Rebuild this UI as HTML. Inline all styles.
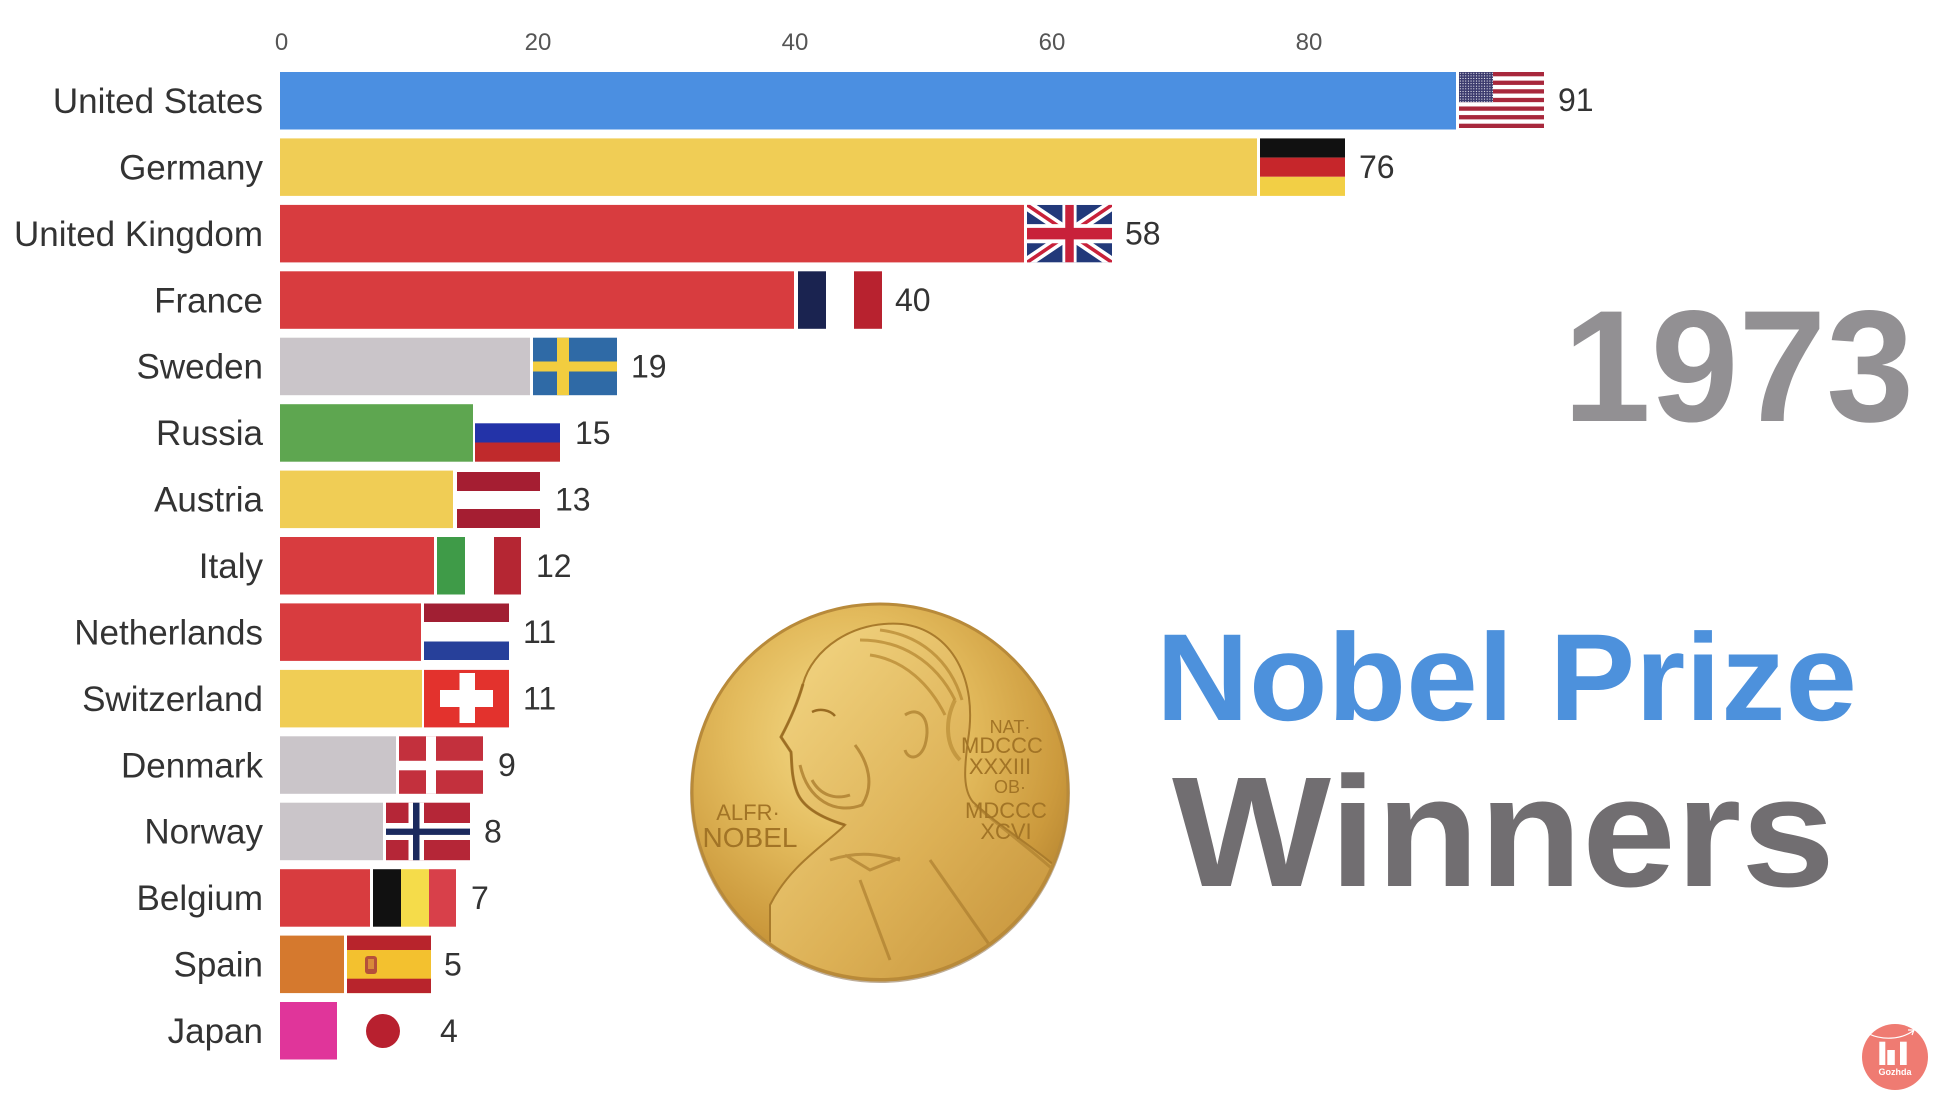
<!DOCTYPE html>
<html>
<head>
<meta charset="utf-8">
<style>
  html,body{margin:0;padding:0;background:#fff;}
  body{width:1940px;height:1094px;overflow:hidden;}
  svg{display:block;}
  .lbl{font-family:"Liberation Sans",sans-serif;font-size:35px;fill:#333;text-anchor:end;}
  .val{font-family:"Liberation Sans",sans-serif;font-size:32px;fill:#333;}
  .tick{font-family:"Liberation Sans",sans-serif;font-size:24px;fill:#555;text-anchor:middle;}
  .med{font-family:"Liberation Sans",sans-serif;fill:#a27426;text-anchor:middle;}
</style>
</head>
<body>
<svg width="1940" height="1094" viewBox="0 0 1940 1094" xmlns="http://www.w3.org/2000/svg">
  <defs>
    <pattern id="stars" width="6" height="6" patternUnits="userSpaceOnUse">
      <rect width="6" height="6" fill="#3c3b6e"/>
      <circle cx="3" cy="3" r="1.3" fill="#fff"/>
    </pattern>
    <radialGradient id="gold" cx="42%" cy="35%" r="70%">
      <stop offset="0%" stop-color="#f6de8c"/>
      <stop offset="45%" stop-color="#e3bb5d"/>
      <stop offset="80%" stop-color="#cc9a3d"/>
      <stop offset="100%" stop-color="#b3822f"/>
    </radialGradient>
    <linearGradient id="bust" x1="0" y1="0" x2="1" y2="1">
      <stop offset="0%" stop-color="#f4d886"/>
      <stop offset="55%" stop-color="#dcb055"/>
      <stop offset="100%" stop-color="#c08c35"/>
    </linearGradient>
    <clipPath id="medclip"><circle cx="880" cy="792" r="186"/></clipPath>
  </defs>

  <!-- axis ticks -->
  <text class="tick" x="281.5" y="50">0</text>
  <text class="tick" x="538" y="50">20</text>
  <text class="tick" x="795" y="50">40</text>
  <text class="tick" x="1052" y="50">60</text>
  <text class="tick" x="1309" y="50">80</text>

  <!-- labels -->
  <text class="lbl" x="263" y="113">United States</text>
  <text class="lbl" x="263" y="179.4">Germany</text>
  <text class="lbl" x="263" y="245.9">United Kingdom</text>
  <text class="lbl" x="263" y="312.3">France</text>
  <text class="lbl" x="263" y="378.7">Sweden</text>
  <text class="lbl" x="263" y="445.2">Russia</text>
  <text class="lbl" x="263" y="511.6">Austria</text>
  <text class="lbl" x="263" y="578">Italy</text>
  <text class="lbl" x="263" y="644.4">Netherlands</text>
  <text class="lbl" x="263" y="710.9">Switzerland</text>
  <text class="lbl" x="263" y="777.3">Denmark</text>
  <text class="lbl" x="263" y="843.7">Norway</text>
  <text class="lbl" x="263" y="910.2">Belgium</text>
  <text class="lbl" x="263" y="976.6">Spain</text>
  <text class="lbl" x="263" y="1043">Japan</text>

  <!-- bars -->
  <rect x="280" y="72" width="1176" height="57.5" fill="#4b8fe1"/>
  <rect x="280" y="138.4" width="977" height="57.5" fill="#f0cd55"/>
  <rect x="280" y="204.9" width="744" height="57.5" fill="#d83c3f"/>
  <rect x="280" y="271.3" width="514" height="57.5" fill="#d83c3f"/>
  <rect x="280" y="337.7" width="250" height="57.5" fill="#cac5c9"/>
  <rect x="280" y="404.2" width="193" height="57.5" fill="#5ea650"/>
  <rect x="280" y="470.6" width="173" height="57.5" fill="#f0cd55"/>
  <rect x="280" y="537" width="154" height="57.5" fill="#d83c3f"/>
  <rect x="280" y="603.4" width="141" height="57.5" fill="#d83c3f"/>
  <rect x="280" y="669.9" width="142" height="57.5" fill="#f0cd55"/>
  <rect x="280" y="736.3" width="116" height="57.5" fill="#cac5c9"/>
  <rect x="280" y="802.7" width="103" height="57.5" fill="#cac5c9"/>
  <rect x="280" y="869.2" width="90" height="57.5" fill="#d83c3f"/>
  <rect x="280" y="935.6" width="64" height="57.5" fill="#d5792e"/>
  <rect x="280" y="1002" width="57" height="57.5" fill="#e0359a"/>

  <!-- flags -->
  <svg x="1459" y="72" width="85" height="56" viewBox="0 0 190 130" preserveAspectRatio="none">
    <rect width="190" height="130" fill="#fff"/>
    <g fill="#a8283c">
      <rect y="0" width="190" height="10"/><rect y="20" width="190" height="10"/>
      <rect y="40" width="190" height="10"/><rect y="60" width="190" height="10"/>
      <rect y="80" width="190" height="10"/><rect y="100" width="190" height="10"/>
      <rect y="120" width="190" height="10"/>
    </g>
    <rect width="76" height="70" fill="url(#stars)"/>
  </svg>
  <rect x="1260" y="138.4" width="85" height="19.2" fill="#111"/>
  <rect x="1260" y="157.6" width="85" height="19.2" fill="#c6262b"/>
  <rect x="1260" y="176.8" width="85" height="19.1" fill="#f2cf45"/>
  <svg x="1027" y="204.9" width="85" height="57.5" viewBox="0 0 60 30" preserveAspectRatio="none">
    <rect width="60" height="30" fill="#22397a"/>
    <path d="M0,0 L60,30 M60,0 L0,30" stroke="#fff" stroke-width="6"/>
    <path d="M0,0 L60,30 M60,0 L0,30" stroke="#c8213a" stroke-width="2"/>
    <path d="M30,0 V30 M0,15 H60" stroke="#fff" stroke-width="10"/>
    <path d="M30,0 V30 M0,15 H60" stroke="#c8213a" stroke-width="6"/>
  </svg>
  <rect x="798" y="271.3" width="28" height="57.5" fill="#1a2350"/>
  <rect x="854" y="271.3" width="28" height="57.5" fill="#b8222f"/>
  <rect x="533" y="337.7" width="84" height="57.5" fill="#2f6aa6"/>
  <rect x="557" y="337.7" width="12" height="57.5" fill="#f2cd3f"/>
  <rect x="533" y="361.5" width="84" height="10" fill="#f2cd3f"/>
  <rect x="475" y="423.3" width="85" height="19.2" fill="#2333a8"/>
  <rect x="475" y="442.5" width="85" height="19.2" fill="#c02a2c"/>
  <rect x="457" y="472" width="83" height="19" fill="#a51e32"/>
  <rect x="457" y="509" width="83" height="19" fill="#a51e32"/>
  <rect x="437" y="537" width="28" height="57.5" fill="#3f9b48"/>
  <rect x="494" y="537" width="27" height="57.5" fill="#b52633"/>
  <rect x="424" y="603.5" width="85" height="18.5" fill="#a11f33"/>
  <rect x="424" y="641.5" width="85" height="18.5" fill="#27409a"/>
  <rect x="424" y="669.9" width="85" height="57.5" fill="#e3322d"/>
  <rect x="459.5" y="673" width="15.5" height="50" fill="#fff"/>
  <rect x="440" y="690" width="53" height="17" fill="#fff"/>
  <rect x="399" y="736.3" width="84" height="57.5" fill="#c3303d"/>
  <rect x="426" y="736.3" width="10" height="57.5" fill="#fff"/>
  <rect x="399" y="760.8" width="84" height="9.5" fill="#fff"/>
  <rect x="386" y="802.7" width="84" height="57.5" fill="#b52637"/>
  <rect x="408.5" y="802.7" width="15.5" height="57.5" fill="#fff"/>
  <rect x="386" y="823" width="84" height="17" fill="#fff"/>
  <rect x="413" y="802.7" width="6.5" height="57.5" fill="#1b2a5e"/>
  <rect x="386" y="828.6" width="84" height="6.3" fill="#1b2a5e"/>
  <rect x="373" y="869.2" width="28" height="57.5" fill="#111"/>
  <rect x="401" y="869.2" width="28" height="57.5" fill="#f5dc4a"/>
  <rect x="429" y="869.2" width="27" height="57.5" fill="#d8404a"/>
  <rect x="347" y="935.6" width="84" height="57.5" fill="#f3c12f"/>
  <rect x="347" y="935.6" width="84" height="14.4" fill="#b8242c"/>
  <rect x="347" y="978.7" width="84" height="14.4" fill="#b8242c"/>
  <rect x="365" y="956" width="12" height="18" rx="3" fill="#b5503a"/>
  <rect x="368" y="959" width="6" height="10" fill="#d88a3a"/>
  <circle cx="383" cy="1031" r="17" fill="#b8202f"/>

  <!-- values -->
  <text class="val" x="1558" y="111">91</text>
  <text class="val" x="1359" y="178">76</text>
  <text class="val" x="1125" y="244.5">58</text>
  <text class="val" x="895" y="311">40</text>
  <text class="val" x="631" y="377.5">19</text>
  <text class="val" x="575" y="444">15</text>
  <text class="val" x="555" y="510.5">13</text>
  <text class="val" x="536" y="577">12</text>
  <text class="val" x="523" y="643">11</text>
  <text class="val" x="523" y="709.5">11</text>
  <text class="val" x="498" y="776">9</text>
  <text class="val" x="484" y="842.5">8</text>
  <text class="val" x="471" y="909">7</text>
  <text class="val" x="444" y="975.5">5</text>
  <text class="val" x="440" y="1042">4</text>

  <!-- year -->
  <text x="1563" y="421" font-family="Liberation Sans, sans-serif" font-weight="bold" font-size="159" fill="#929093" textLength="351" lengthAdjust="spacingAndGlyphs">1973</text>

  <!-- title -->
  <text x="1156" y="720" font-family="Liberation Sans, sans-serif" font-weight="bold" font-size="124" fill="#4d91dc" textLength="701" lengthAdjust="spacingAndGlyphs">Nobel Prize</text>
  <text x="1172" y="886" font-family="Liberation Sans, sans-serif" font-weight="bold" font-size="157" fill="#716e71" textLength="663" lengthAdjust="spacingAndGlyphs">Winners</text>

  <!-- medal -->
  <circle cx="880" cy="793" r="190" fill="#bfae98"/>
  <circle cx="880" cy="792" r="188" fill="url(#gold)" stroke="#b88a3a" stroke-width="3"/>
  <g clip-path="url(#medclip)">
    <path d="M770,990 L770,905 C790,865 825,845 845,825 C822,818 803,808 797,792 C791,776 792,762 791,752 L781,737 C789,722 797,705 803,684 C812,650 852,620 902,624 C952,630 978,680 968,740 C964,770 963,790 973,802 C1003,830 1043,852 1075,884 L1080,995 Z" fill="url(#bust)" stroke="#a97b2c" stroke-width="2"/>
    <!-- face profile shadow -->
    <path d="M803,684 C797,705 789,722 781,737 L791,752 C792,762 791,776 797,792 C803,808 822,818 845,825" fill="none" stroke="#9a6c22" stroke-width="3" opacity="0.8"/>
    <!-- hair -->
    <path d="M860,640 C900,640 935,660 955,700 M870,655 C905,660 930,685 945,715 M880,630 C920,635 950,660 962,700" fill="none" stroke="#b3852f" stroke-width="3" opacity="0.7"/>
    <!-- beard -->
    <path d="M800,765 C808,800 835,815 862,805 C875,785 868,762 855,745 M812,780 C820,795 835,800 850,795" fill="none" stroke="#a87a2b" stroke-width="3" opacity="0.75"/>
    <!-- ear -->
    <path d="M905,715 C920,705 932,720 925,745 C920,760 908,760 905,750" fill="none" stroke="#a87a2b" stroke-width="3" opacity="0.7"/>
    <!-- eye -->
    <path d="M812,712 C820,708 830,710 835,716" fill="none" stroke="#9a6c22" stroke-width="2.5"/>
    <!-- collar / lapels -->
    <path d="M830,860 C860,850 880,855 900,860 M860,880 L890,960 M930,860 L1000,960 M845,855 L870,870 L900,858" fill="none" stroke="#a97b2c" stroke-width="3" opacity="0.65"/>
    <path d="M955,700 C945,720 945,745 960,760" fill="none" stroke="#b3852f" stroke-width="4" opacity="0.6"/>
    <path d="M975,805 C1010,835 1045,860 1075,890" fill="none" stroke="#a97b2c" stroke-width="3" opacity="0.6"/>
  </g>
  <text class="med" x="1010" y="733" font-size="18">NAT·</text>
  <text class="med" x="1002" y="753" font-size="22">MDCCC</text>
  <text class="med" x="1000" y="774" font-size="22">XXXIII</text>
  <text class="med" x="1010" y="793" font-size="18">OB·</text>
  <text class="med" x="1006" y="818" font-size="22">MDCCC</text>
  <text class="med" x="1006" y="839" font-size="22">XCVI</text>
  <text class="med" x="748" y="820" font-size="22">ALFR·</text>
  <text class="med" x="750" y="847" font-size="28">NOBEL</text>

  <!-- logo -->
  <circle cx="1895" cy="1057" r="33" fill="#ef7b72"/>
  <path d="M1869,1034 C1882,1040 1900,1040 1913,1031" fill="none" stroke="#fff" stroke-width="1.2"/>
  <path d="M1908,1030 L1914,1030 L1912,1035" fill="none" stroke="#fff" stroke-width="1.2"/>
  <rect x="1879.3" y="1041.7" width="6" height="23.3" fill="#fff"/>
  <rect x="1887.3" y="1050" width="7.5" height="15" fill="#fff"/>
  <rect x="1900" y="1041.7" width="6.7" height="23.3" fill="#fff"/>
  <text x="1895" y="1075" font-family="Liberation Sans, sans-serif" font-weight="bold" font-size="9" fill="#fff" text-anchor="middle">Gozhda</text>
</svg>
</body>
</html>
